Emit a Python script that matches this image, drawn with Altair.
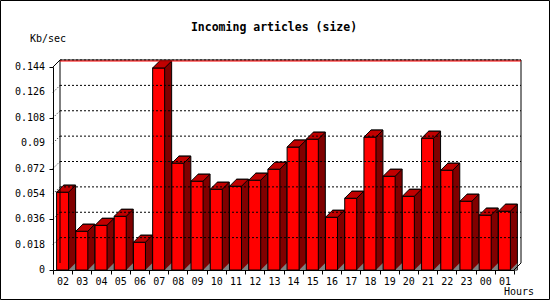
import altair as alt
import pandas as pd

hours = ["02", "03", "04", "05", "06", "07", "08", "09", "10", "11", "12", "13",
         "14", "15", "16", "17", "18", "19", "20", "21", "22", "23", "00", "01"]
values = [0.0552, 0.0275, 0.0317, 0.0381, 0.0197, 0.1433, 0.0758, 0.0630,
          0.0573, 0.0594, 0.0637, 0.0715, 0.0872, 0.0928, 0.0374, 0.0509,
          0.0943, 0.0665, 0.0523, 0.0935, 0.0708, 0.0488, 0.0389, 0.0417]
y_ticks = [0, 0.018, 0.036, 0.054, 0.072, 0.09, 0.108, 0.126, 0.144]

title_text = "Incoming articles (size)"
y_title = "Kb/sec"
x_title = "Hours"

W, H = 461, 203
DEPTH = 7
PAD_L, PAD_T = 53, 67
MONO = "DejaVu Sans Mono"

df = pd.DataFrame({"hour": hours, "value": values})
tick_df = pd.DataFrame({"value": y_ticks})
grid_df = pd.DataFrame({"value": y_ticks[1:]})
one = pd.DataFrame({"a": [0]})

x_enc = alt.X("hour:N", sort=hours, title=None,
              scale=alt.Scale(paddingInner=0, paddingOuter=0),
              axis=alt.Axis(tickBand="extent", tickSize=4, labelAngle=0,
                            labelFont=MONO, labelFontSize=10, labelColor="black",
                            labelPadding=2, domainColor="black", tickColor="black",
                            labelOverlap=False, grid=False))
y_scale = alt.Scale(domain=[0, 0.144], nice=False, zero=True)
y_axis = alt.Axis(values=y_ticks, labels=False, tickSize=4,
                  domainColor="black", tickColor="black", grid=False)
y_enc = alt.Y("value:Q", title=None, scale=y_scale, axis=y_axis)

# y tick labels
ylabels = alt.Chart(tick_df).mark_text(font=MONO, fontSize=10, color="black",
                                       align="right", baseline="middle").encode(
    y=y_enc, x=alt.value(-8), text=alt.Text("value:Q", format=".3~f"))

# back wall grid (dotted)
grid = alt.Chart(grid_df).mark_rule(color="black", strokeDash=[2, 2], yOffset=-DEPTH).encode(
    y=y_enc, x=alt.value(DEPTH), x2=alt.value(W + DEPTH))
grid_diag = alt.Chart(grid_df).mark_rule(color="black", strokeDash=[1, 2], y2Offset=-DEPTH).encode(
    y=y_enc, y2="value:Q", x=alt.value(0), x2=alt.value(DEPTH))

# back wall frame
frame_top = alt.Chart(one).mark_rule(color="black").encode(
    x=alt.value(DEPTH), x2=alt.value(W + DEPTH), y=alt.value(-DEPTH))
frame_red = alt.Chart(one).mark_rule(color="#FF0000").encode(
    x=alt.value(DEPTH), x2=alt.value(W + DEPTH), y=alt.value(-DEPTH + 1))
frame_left = alt.Chart(one).mark_rule(color="black").encode(
    x=alt.value(DEPTH), y=alt.value(-DEPTH), y2=alt.value(H - DEPTH))
frame_right = alt.Chart(one).mark_rule(color="black").encode(
    x=alt.value(W + DEPTH), y=alt.value(-DEPTH), y2=alt.value(H - DEPTH))
diag_tl = alt.Chart(one).mark_rule(color="black").encode(
    x=alt.value(0), x2=alt.value(DEPTH), y=alt.value(0), y2=alt.value(-DEPTH))
diag_br = alt.Chart(one).mark_rule(color="black").encode(
    x=alt.value(W), x2=alt.value(W + DEPTH), y=alt.value(H), y2=alt.value(H - DEPTH))

base = alt.Chart(df).encode(x=x_enc, y=y_enc)

side = base.mark_bar(size=12, color="#800000", stroke="black", strokeWidth=1,
                     xOffset=DEPTH, yOffset=-DEPTH, y2Offset=0).encode(y2=alt.datum(0))
shadow = base.mark_point(shape="M 6 0 L 13 -7 L 13 0 Z", size=4, filled=True,
                         fill="#808080", opacity=1, strokeWidth=0).encode(y=alt.datum(0))
front = base.mark_bar(size=12, color="#FF0000", stroke="black", strokeWidth=1)
top = base.mark_point(shape="M -6 0 L 1 -7 L 13 -7 L 6 0 Z", size=4, filled=True,
                      fill="#C00000", stroke="black", strokeWidth=1, opacity=1)

title = alt.Chart(one).mark_text(text=title_text, font=MONO, fontSize=11.5,
                                 fontWeight="bold", color="black", align="center",
                                 baseline="middle").encode(
    x=alt.value(274 - PAD_L), y=alt.value(28 - PAD_T))
ylab = alt.Chart(one).mark_text(text=y_title, font=MONO, fontSize=10, color="black",
                                align="left", baseline="middle").encode(
    x=alt.value(30 - PAD_L), y=alt.value(39 - PAD_T))
xlab = alt.Chart(one).mark_text(text=x_title, font=MONO, fontSize=10, color="black",
                                align="left", baseline="middle").encode(
    x=alt.value(504 - PAD_L), y=alt.value(292 - PAD_T))
border = alt.Chart(one).mark_rect(fillOpacity=0, stroke="black", strokeWidth=1).encode(
    x=alt.value(-PAD_L + 0.5), x2=alt.value(550 - PAD_L - 0.5),
    y=alt.value(-PAD_T + 0.5), y2=alt.value(300 - PAD_T - 0.5))

chart = alt.layer(
    side, shadow, front, top,
    grid, grid_diag, frame_left, frame_right, diag_br,
    frame_top, frame_red, diag_tl, ylabels,
    title, ylab, xlab, border
).properties(
    width=W, height=H,
    autosize=alt.AutoSizeParams(type="none"),
    padding={"left": PAD_L, "top": PAD_T, "right": 550 - PAD_L - W, "bottom": 300 - PAD_T - H},
    background="white",
).configure_view(stroke=None).configure_axis(labelOverlap=False)

chart.save("out.html", embed_options={"renderer": "svg", "actions": False})
